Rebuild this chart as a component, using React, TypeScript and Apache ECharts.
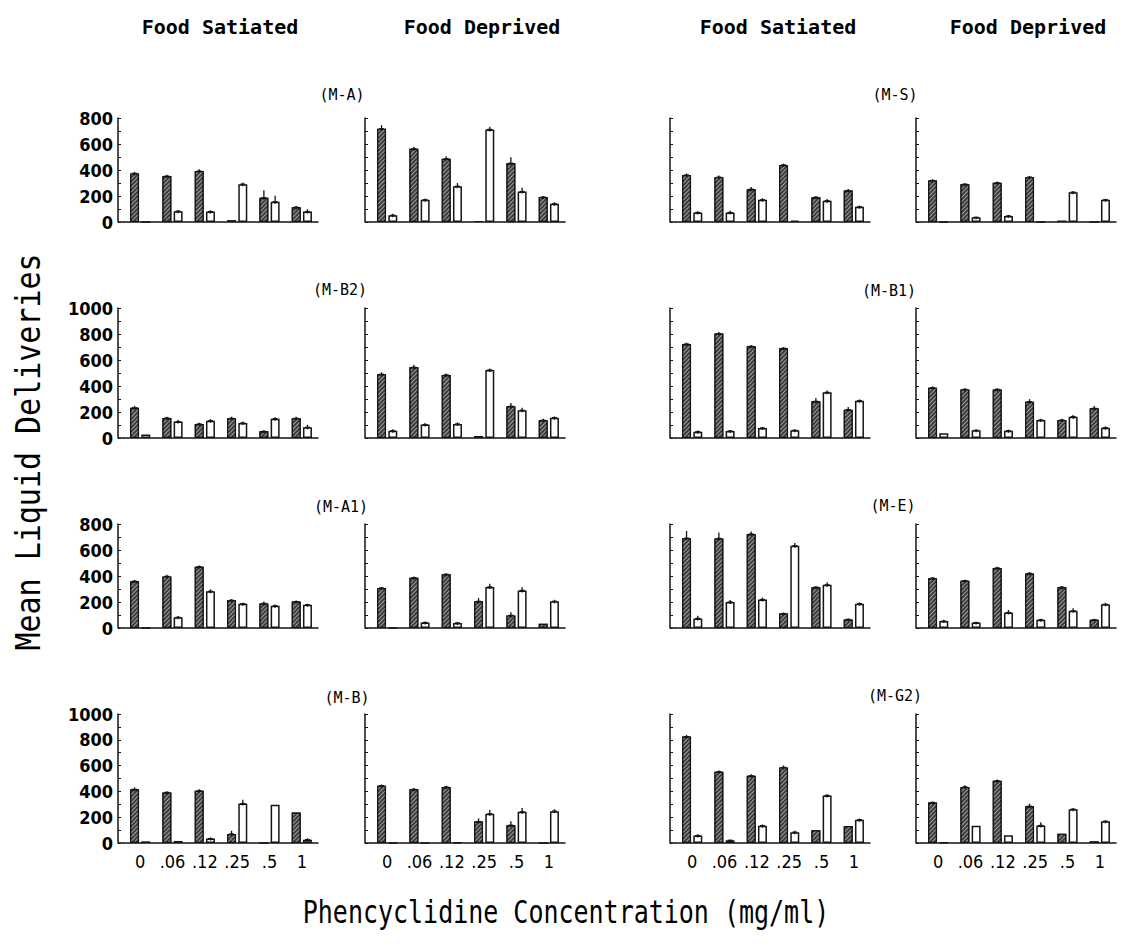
import React, { useEffect, useRef } from 'react';
import * as echarts from 'echarts';

// ---------- data ----------
const categories = ['0', '.06', '.12', '.25', '.5', '1'];

// Row 1: (M-A) and (M-S)
const mA_sat_hatched = [374, 353, 392, 13, 187, 114];
const mA_sat_open = [0, 83, 80, 291, 156, 80];
const mA_sat_hatchedErr = [12, 10, 14, 0, 57, 10];
const mA_sat_openErr = [0, 10, 10, 12, 45, 18];

const mA_dep_hatched = [717, 564, 486, 8, 452, 192];
const mA_dep_open = [52, 171, 275, 712, 234, 140];
const mA_dep_hatchedErr = [28, 15, 20, 0, 47, 8];
const mA_dep_openErr = [12, 10, 25, 20, 30, 12];

const mS_sat_hatched = [361, 345, 252, 439, 190, 242];
const mS_sat_open = [73, 73, 171, 10, 164, 117];
const mS_sat_hatchedErr = [12, 12, 18, 10, 10, 12];
const mS_sat_openErr = [10, 14, 12, 0, 12, 10];

const mS_dep_hatched = [319, 291, 301, 345, 10, 0];
const mS_dep_open = [0, 36, 47, 0, 229, 171];
const mS_dep_hatchedErr = [10, 8, 10, 10, 0, 0];
const mS_dep_openErr = [0, 5, 8, 0, 10, 8];

// Row 2: (M-B2) and (M-B1)
const mB2_sat_hatched = [233, 154, 108, 151, 51, 151];
const mB2_sat_open = [26, 126, 133, 115, 149, 82];
const mB2_sat_hatchedErr = [15, 10, 10, 12, 8, 12];
const mB2_sat_openErr = [0, 15, 12, 12, 10, 20];

const mB2_dep_hatched = [490, 544, 485, 15, 244, 136];
const mB2_dep_open = [56, 103, 108, 523, 213, 156];
const mB2_dep_hatchedErr = [15, 20, 12, 0, 25, 12];
const mB2_dep_openErr = [12, 12, 12, 12, 20, 10];

const mB1_sat_hatched = [723, 803, 705, 690, 282, 218];
const mB1_sat_open = [49, 54, 77, 59, 351, 287];
const mB1_sat_hatchedErr = [10, 12, 10, 10, 25, 20];
const mB1_sat_openErr = [8, 8, 8, 8, 15, 10];

const mB1_dep_hatched = [387, 374, 374, 279, 138, 228];
const mB1_dep_open = [36, 59, 56, 138, 164, 79];
const mB1_dep_hatchedErr = [10, 8, 8, 20, 10, 18];
const mB1_dep_openErr = [0, 8, 8, 10, 12, 10];

// Row 3: (M-A1) and (M-E)
const mA1_sat_hatched = [360, 397, 471, 213, 189, 203];
const mA1_sat_open = [0, 82, 282, 187, 171, 179];
const mA1_sat_hatchedErr = [10, 12, 10, 10, 15, 8];
const mA1_sat_openErr = [0, 10, 15, 8, 10, 8];

const mA1_dep_hatched = [308, 387, 413, 205, 97, 32];
const mA1_dep_open = [0, 42, 39, 316, 289, 205];
const mA1_dep_hatchedErr = [8, 10, 8, 25, 25, 0];
const mA1_dep_openErr = [0, 8, 8, 25, 25, 12];

const mE_sat_hatched = [691, 689, 723, 111, 314, 66];
const mE_sat_open = [74, 200, 219, 633, 332, 187];
const mE_sat_hatchedErr = [55, 45, 20, 8, 8, 8];
const mE_sat_openErr = [20, 15, 15, 20, 20, 10];

const mE_dep_hatched = [383, 364, 462, 420, 314, 63];
const mE_dep_open = [53, 42, 119, 63, 132, 182];
const mE_dep_hatchedErr = [8, 8, 10, 10, 10, 8];
const mE_dep_openErr = [10, 5, 20, 8, 20, 12];

// Row 4: (M-B) and (M-G2)
const mB_sat_hatched = [416, 392, 405, 70, 0, 236];
const mB_sat_open = [13, 16, 34, 306, 296, 26];
const mB_sat_hatchedErr = [15, 10, 12, 25, 0, 0];
const mB_sat_openErr = [0, 0, 10, 30, 0, 10];

const mB_dep_hatched = [444, 416, 434, 166, 138, 0];
const mB_dep_open = [0, 0, 5, 226, 242, 247];
const mB_dep_hatchedErr = [10, 10, 10, 25, 30, 0];
const mB_dep_openErr = [0, 0, 0, 30, 30, 15];

const mG2_sat_hatched = [825, 552, 521, 586, 99, 131];
const mG2_sat_open = [58, 21, 134, 84, 369, 181];
const mG2_sat_hatchedErr = [12, 10, 12, 15, 0, 0];
const mG2_sat_openErr = [10, 5, 10, 10, 8, 8];

const mG2_dep_hatched = [314, 435, 482, 285, 71, 13];
const mG2_dep_open = [5, 134, 60, 136, 262, 168];
const mG2_dep_hatchedErr = [8, 12, 10, 20, 0, 0];
const mG2_dep_openErr = [0, 0, 0, 25, 10, 10];

const rowMax = [800, 1000, 800, 1000];
const columnHeaders = ['Food Satiated', 'Food Deprived', 'Food Satiated', 'Food Deprived'];
const panelLabels = ['(M-A)', '(M-S)', '(M-B2)', '(M-B1)', '(M-A1)', '(M-E)', '(M-B)', '(M-G2)'];
const yTitle = 'Mean Liquid Deliveries';
const xTitle = 'Phencyclidine Concentration (mg/ml)';

const panels = [
  { row: 0, col: 0, h: mA_sat_hatched, o: mA_sat_open, he: mA_sat_hatchedErr, oe: mA_sat_openErr },
  { row: 0, col: 1, h: mA_dep_hatched, o: mA_dep_open, he: mA_dep_hatchedErr, oe: mA_dep_openErr },
  { row: 0, col: 2, h: mS_sat_hatched, o: mS_sat_open, he: mS_sat_hatchedErr, oe: mS_sat_openErr },
  { row: 0, col: 3, h: mS_dep_hatched, o: mS_dep_open, he: mS_dep_hatchedErr, oe: mS_dep_openErr },
  { row: 1, col: 0, h: mB2_sat_hatched, o: mB2_sat_open, he: mB2_sat_hatchedErr, oe: mB2_sat_openErr },
  { row: 1, col: 1, h: mB2_dep_hatched, o: mB2_dep_open, he: mB2_dep_hatchedErr, oe: mB2_dep_openErr },
  { row: 1, col: 2, h: mB1_sat_hatched, o: mB1_sat_open, he: mB1_sat_hatchedErr, oe: mB1_sat_openErr },
  { row: 1, col: 3, h: mB1_dep_hatched, o: mB1_dep_open, he: mB1_dep_hatchedErr, oe: mB1_dep_openErr },
  { row: 2, col: 0, h: mA1_sat_hatched, o: mA1_sat_open, he: mA1_sat_hatchedErr, oe: mA1_sat_openErr },
  { row: 2, col: 1, h: mA1_dep_hatched, o: mA1_dep_open, he: mA1_dep_hatchedErr, oe: mA1_dep_openErr },
  { row: 2, col: 2, h: mE_sat_hatched, o: mE_sat_open, he: mE_sat_hatchedErr, oe: mE_sat_openErr },
  { row: 2, col: 3, h: mE_dep_hatched, o: mE_dep_open, he: mE_dep_hatchedErr, oe: mE_dep_openErr },
  { row: 3, col: 0, h: mB_sat_hatched, o: mB_sat_open, he: mB_sat_hatchedErr, oe: mB_sat_openErr },
  { row: 3, col: 1, h: mB_dep_hatched, o: mB_dep_open, he: mB_dep_hatchedErr, oe: mB_dep_openErr },
  { row: 3, col: 2, h: mG2_sat_hatched, o: mG2_sat_open, he: mG2_sat_hatchedErr, oe: mG2_sat_openErr },
  { row: 3, col: 3, h: mG2_dep_hatched, o: mG2_dep_open, he: mG2_dep_hatchedErr, oe: mG2_dep_openErr },
];

// ---------- layout ----------
const axisX = [118, 365, 670, 916];
const gridOffset = 6;
const gridW = 194;
const rowTop = [118, 308, 524, 714];
const rowBottom = [222, 438, 628, 843];
const headerX = [220, 482, 778, 1028];
const labelPos = [
  [342, 95], [895, 95], [340, 290], [889, 291],
  [341, 507], [893, 506], [347, 698], [895, 696],
];
const BAR_W = 9;
const BAR_GAP = 0.25;
const INK = '#151515';
const monoFont = '"DejaVu Sans Mono", "Liberation Mono", monospace';
const narrowFont = '"Liberation Sans Narrow", "DejaVu Sans Condensed", "Liberation Sans", sans-serif';

function buildOption() {
  const grid: any[] = [];
  const xAxis: any[] = [];
  const yAxis: any[] = [];
  const series: any[] = [];
  const graphic: any[] = [];
  const half = (BAR_W + BAR_W * BAR_GAP) / 2;

  panels.forEach((p, i) => {
    grid.push({
      left: axisX[p.col] + gridOffset,
      top: rowTop[p.row],
      width: gridW,
      height: rowBottom[p.row] - rowTop[p.row],
      outerBoundsMode: 'none',
    });
    xAxis.push({
      gridIndex: i,
      type: 'category',
      data: categories,
      axisLine: { show: true, lineStyle: { color: INK, width: 1.5 } },
      axisTick: { show: false },
      axisLabel: {
        show: p.row === 3,
        margin: 9,
        color: '#000',
        fontSize: 18,
        fontFamily: narrowFont,
        interval: 0,
      },
      splitLine: { show: false },
    });
    yAxis.push({
      gridIndex: i,
      type: 'value',
      min: 0,
      max: rowMax[p.row],
      interval: 200,
      offset: gridOffset,
      axisLine: { show: true, lineStyle: { color: INK, width: 1.5 } },
      axisTick: { show: true, inside: true, length: 3, lineStyle: { color: INK, width: 1 } },
      minorTick: { show: true, splitNumber: 2, length: 3, lineStyle: { color: INK, width: 1 } },
      splitLine: { show: false },
      axisLabel: {
        show: p.col === 0,
        margin: 5,
        color: '#000',
        fontSize: 18,
        fontWeight: 'bold',
        fontFamily: narrowFont,
        formatter: (v: number) => String(v),
      },
    });
    series.push({
      type: 'bar',
      xAxisIndex: i,
      yAxisIndex: i,
      data: p.h,
      barWidth: BAR_W,
      barGap: BAR_GAP * 100 + '%',
      itemStyle: {
        color: '#3c3c3c',
        borderColor: INK,
        borderWidth: 1.2,
        decal: {
          symbol: 'rect',
          symbolSize: 1,
          dashArrayX: [1, 0],
          dashArrayY: [1, 2],
          rotation: -Math.PI / 4,
          color: 'rgba(190,190,190,0.75)',
        },
      },
    });
    series.push({
      type: 'bar',
      xAxisIndex: i,
      yAxisIndex: i,
      data: p.o,
      barWidth: BAR_W,
      barGap: BAR_GAP * 100 + '%',
      itemStyle: { color: '#ffffff', borderColor: INK, borderWidth: 1.5 },
    });
    const errData: any[] = [];
    p.h.forEach((v, k) => errData.push([k, v, p.he[k], -1]));
    p.o.forEach((v, k) => errData.push([k, v, p.oe[k], 1]));
    series.push({
      type: 'custom',
      xAxisIndex: i,
      yAxisIndex: i,
      data: errData,
      z: 5,
      renderItem: (params: any, api: any) => {
        const cat = api.value(0);
        const v = api.value(1);
        const e = api.value(2);
        const side = api.value(3);
        if (!(e > 0) || !(v > 0)) return null;
        const base = api.coord([cat, v]);
        const top = api.coord([cat, v + e]);
        const x = base[0] + side * half;
        return {
          type: 'group',
          children: [
            { type: 'line', shape: { x1: x, y1: base[1] + 2, x2: x, y2: top[1] }, style: { stroke: INK, lineWidth: 1.3 } },
            { type: 'line', shape: { x1: x - 2.5, y1: base[1], x2: x + 2.5, y2: base[1] }, style: { stroke: INK, lineWidth: 1.3 } },
          ],
        };
      },
    });
    // connect the offset y axis to the x axis line
    graphic.push({
      type: 'line',
      shape: { x1: axisX[p.col], y1: rowBottom[p.row], x2: axisX[p.col] + gridOffset, y2: rowBottom[p.row] },
      style: { stroke: INK, lineWidth: 1.5 },
    });
  });

  columnHeaders.forEach((t, c) => {
    graphic.push({
      type: 'text',
      x: headerX[c],
      y: 27,
      style: { text: t, fontSize: 20, fontWeight: 'bold', fontFamily: monoFont, fill: '#000', align: 'center', verticalAlign: 'middle' },
    });
  });
  panelLabels.forEach((t, k) => {
    graphic.push({
      type: 'text',
      x: labelPos[k][0],
      y: labelPos[k][1],
      style: { text: t, fontSize: 15, fontFamily: monoFont, fill: '#000', align: 'center', verticalAlign: 'middle' },
    });
  });
  graphic.push({
    type: 'text',
    x: 28,
    y: 452,
    rotation: Math.PI / 2,
    scaleY: 1.1,
    style: { text: yTitle, fontSize: 30, fontFamily: monoFont, fill: '#000', align: 'center', verticalAlign: 'middle' },
  });
  graphic.push({
    type: 'text',
    x: 566,
    y: 913,
    scaleY: 1.25,
    style: { text: xTitle, fontSize: 25, fontFamily: monoFont, fill: '#000', align: 'center', verticalAlign: 'middle' },
  });

  return {
    animation: false,
    backgroundColor: '#ffffff',
    grid,
    xAxis,
    yAxis,
    series,
    graphic,
  };
}

export default function App() {
  const ref = useRef<HTMLDivElement>(null);
  useEffect(() => {
    if (!ref.current) return;
    const chart = echarts.init(ref.current, undefined, { renderer: 'svg' });
    chart.setOption(buildOption() as any);
    return () => chart.dispose();
  }, []);
  return (
    <div
      ref={ref}
      style={{ position: 'fixed', left: 0, top: 0, width: 1132, height: 944, background: '#fff' }}
    />
  );
}
